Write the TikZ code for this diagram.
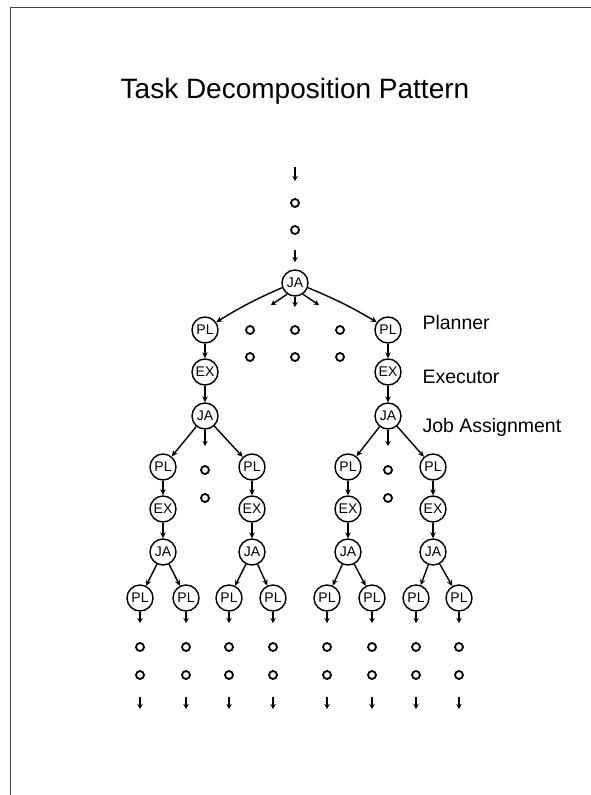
\documentclass[tikz,border=0pt]{standalone}
\usepackage{fontspec}
\setmainfont{Liberation Sans}
\usetikzlibrary{arrows.meta}
\begin{document}
\begin{tikzpicture}[x=1pt,y=-1pt,
  agent/.style={circle,draw,line width=1.4pt,minimum size=26pt,inner sep=0pt,
    font=\fontsize{14}{14}\selectfont},
  dot/.style={circle,draw,line width=1.8pt,minimum size=8pt,inner sep=0pt},
  link/.style={line width=1.4pt,-{Stealth[length=6pt,width=5.5pt]}},
  stub/.style={line width=1.4pt,-{Stealth[length=5pt,width=5.5pt]}},
  role/.style={anchor=west,font=\fontsize{19.5}{20}\selectfont},
  frame/.style={line width=1pt,black!75}]
\useasboundingbox (0,0) rectangle (591,795);
\draw[frame] (10,795) -- (10,7) -- (591,7);

\node[font=\fontsize{28}{32}\selectfont] (title) at (295,91) {Task Decomposition Pattern};

% incoming chain above the root job assignment
\coordinate (in0a) at (295,167);
\coordinate (in0b) at (295,181);
\draw[stub] (in0a) -- (in0b);
\node[dot] (d0a) at (295,203) {};
\node[dot] (d0b) at (295,230) {};
\coordinate (in1a) at (295,250);
\coordinate (in1b) at (295,262);
\draw[stub] (in1a) -- (in1b);
\node[agent] (ja0) at (295,283) {JA};

% first level
\node[agent] (plA) at (205,330) {PL};
\node[agent] (exA) at (205,372) {EX};
\node[agent] (jaA) at (205,416) {JA};
\node[agent] (plB) at (388,330) {PL};
\node[agent] (exB) at (388,372) {EX};
\node[agent] (jaB) at (388,416) {JA};
\draw[link] (ja0.200) to[bend right=4] (plA.35);
\draw[link] (ja0.340) to[bend left=4] (plB.145);
\coordinate (mL) at (271,305);
\coordinate (mC) at (295,307);
\coordinate (mR) at (319,305);
\draw[stub] (ja0.235) -- (mL);
\draw[stub] (ja0.south) -- (mC);
\draw[stub] (ja0.305) -- (mR);
\foreach \x/\n in {250/a,295/b,340/c}{
  \node[dot] (top\n1) at (\x,330) {};
  \node[dot] (top\n2) at (\x,357) {};
}
\draw[link] (plA) -- (exA);
\draw[link] (exA) -- (jaA);
\draw[link] (plB) -- (exB);
\draw[link] (exB) -- (jaB);

\node[role] (lblPL) at (419,323) {Planner};
\node[role] (lblEX) at (419,377) {Executor};
\node[role] (lblJA) at (419,427) {Job Assignment};

% second level
\foreach \p/\x in {A1/163,A2/252,B1/348,B2/433}{
  \node[agent] (pl\p) at (\x,467) {PL};
  \node[agent] (ex\p) at (\x,509) {EX};
  \node[agent] (ja\p) at (\x,552) {JA};
  \draw[link] (pl\p) -- (ex\p);
  \draw[link] (ex\p) -- (ja\p);
}
\draw[link] (jaA) -- (plA1);
\draw[link] (jaA) -- (plA2);
\draw[link] (jaB) -- (plB1);
\draw[link] (jaB) -- (plB2);
\foreach \p/\x in {A/205,B/388}{
  \coordinate (mid\p) at (\x,446);
  \draw[stub] (ja\p.south) -- (mid\p);
  \node[dot] (md\p1) at (\x,470) {};
  \node[dot] (md\p2) at (\x,498) {};
}

% third level with continuing chains
\foreach \q/\p/\x in {A11/A1/140,A12/A1/186,A21/A2/229,A22/A2/273,
                      B11/B1/327,B12/B1/372,B21/B2/416,B22/B2/459}{
  \node[agent] (pl\q) at (\x,598) {PL};
  \draw[link] (ja\p) -- (pl\q);
  \coordinate (e\q) at (\x,623);
  \draw[stub] (pl\q.south) -- (e\q);
  \node[dot] (da\q) at (\x,647) {};
  \node[dot] (db\q) at (\x,675) {};
  \coordinate (fa\q) at (\x,697);
  \coordinate (fb\q) at (\x,709);
  \draw[stub] (fa\q) -- (fb\q);
}
\end{tikzpicture}
\end{document}
